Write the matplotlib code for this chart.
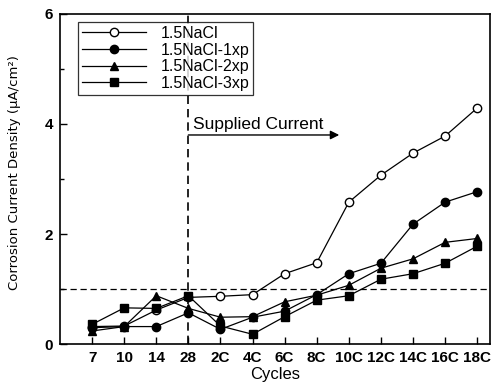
import numpy as np
import matplotlib.pyplot as plt

plt.rcParams['font.family'] = ['Liberation Sans', 'DejaVu Sans']

cycles = ['7', '10', '14', '28', '2C', '4C', '6C', '8C', '10C', '12C', '14C', '16C', '18C']

nacl = [0.32, 0.33, 0.62, 0.85, 0.87, 0.90, 1.28, 1.48, 2.58, 3.07, 3.47, 3.78, 4.29]
nacl_1xp = [0.30, 0.32, 0.32, 0.57, 0.27, 0.49, 0.60, 0.90, 1.28, 1.47, 2.18, 2.58, 2.77]
nacl_2xp = [0.24, 0.32, 0.88, 0.65, 0.49, 0.50, 0.77, 0.89, 1.07, 1.38, 1.55, 1.85, 1.92]
nacl_3xp = [0.36, 0.66, 0.65, 0.88, 0.33, 0.18, 0.50, 0.80, 0.88, 1.18, 1.28, 1.47, 1.78]

SERIES = [
    ('1.5NaCl', nacl, 'o', 'white'),
    ('1.5NaCl-1xp', nacl_1xp, 'o', 'black'),
    ('1.5NaCl-2xp', nacl_2xp, '^', 'black'),
    ('1.5NaCl-3xp', nacl_3xp, 's', 'black'),
]

x = np.arange(1, len(cycles) + 1)

fig = plt.figure(figsize=(4.92, 3.85), dpi=100)
ax = fig.add_axes([0.122, 0.106, 0.874, 0.858])

for label, vals, mk, fc in SERIES:
    ax.plot(x, vals, color='black', lw=0.9, marker=mk, markersize=6,
            markerfacecolor=fc, markeredgecolor='black', markeredgewidth=1.0,
            label=label)

ax.axvline(4, color='black', lw=1.2, ls=(0, (5, 3)))
ax.axhline(1.0, color='black', lw=0.9, ls=(0, (5, 3)))

# supplied current arrow
ax.annotate('', xy=(8.7, 3.8), xytext=(4, 3.8),
            arrowprops=dict(arrowstyle='-|>', color='black', lw=1.0,
                            shrinkA=0, shrinkB=0, mutation_scale=13))
ax.text(4.15, 3.9, 'Supplied Current', fontsize=12.5, va='baseline', ha='left')

ax.set_xlim(0, 13.4)
ax.set_ylim(0, 6)
ax.set_xticks(x)
ax.set_xticklabels(cycles, fontweight='bold', fontsize=11)
ax.set_yticks([0, 2, 4, 6])
ax.set_yticks([1, 3, 5], minor=True)
ax.set_yticklabels(['0', '2', '4', '6'], fontweight='bold', fontsize=11)
ax.tick_params(direction='in', length=5, width=1.0, pad=5)
ax.tick_params(which='minor', direction='in', length=3, width=1.0)
for sp in ax.spines.values():
    sp.set_linewidth(1.2)

ax.set_xlabel('Cycles', fontsize=12, labelpad=1)
ax.set_ylabel('Corrosion Current Density (μA/cm²)', fontsize=9.5,
              family=['Liberation Sans Narrow', 'DejaVu Sans'])
ax.yaxis.set_label_coords(-0.09, 0.52)

leg = ax.legend(loc='upper left', bbox_to_anchor=(0.035, 0.985), fontsize=11.5,
                frameon=True, fancybox=False, edgecolor='black', handlelength=4.0,
                borderpad=0.25, labelspacing=0.1, handletextpad=0.9,
                borderaxespad=0.2)
leg.get_frame().set_linewidth(0.9)

fig.savefig('out.png', dpi=100)
